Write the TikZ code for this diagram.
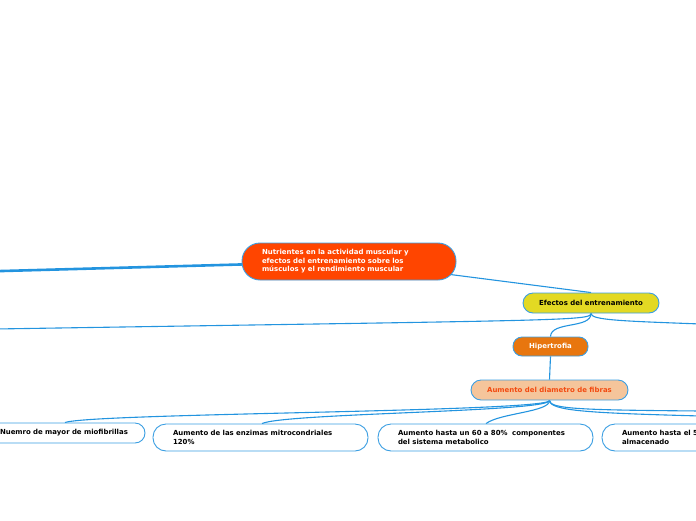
\documentclass[tikz,border=0pt]{standalone}
\usepackage{fontspec}
\setmainfont{DejaVu Sans}
\usetikzlibrary{backgrounds}
\definecolor{lineblue}{HTML}{2394DF}
\definecolor{bordblue}{HTML}{3A9EE2}
\definecolor{mainred}{HTML}{FF4500}
\definecolor{efyellow}{HTML}{E3D923}
\definecolor{hiporange}{HTML}{E8760E}
\definecolor{peach}{HTML}{F5C59B}
\definecolor{peachtext}{HTML}{F24A10}
\begin{document}
\begin{tikzpicture}[x=1pt,y=-1pt,
  every node/.style={font=\fontsize{6.95}{8.6}\selectfont\bfseries},
  topicbox/.style={draw=bordblue,line width=0.9pt,rounded corners=#1,inner sep=0pt},
  topicbox/.default=9pt,
  conn/.style={draw=lineblue,line width=1.1pt},
  thickconn/.style={draw=lineblue,line width=2.6pt}]
\useasboundingbox (0,0) rectangle (696,520);
\clip (0,0) rectangle (696,520);
% nodes
\node[topicbox=18pt,fill=mainred,text=white,minimum width=214pt,minimum height=37pt,
      text width=174pt,align=left] (main) at (349,261.5)
  {Nutrientes en la actividad muscular y\\efectos del entrenamiento sobre los\\músculos y el rendimiento muscular};
\node[topicbox=10pt,fill=efyellow,text=black,minimum width=136pt,minimum height=20pt] (efectos) at (591,303)
  {Efectos del entrenamiento};
\node[topicbox=9pt,fill=hiporange,text=white,minimum width=75pt,minimum height=19pt] (hiper) at (550.5,346.5)
  {Hipertrofia};
\node[topicbox=10pt,fill=peach,text=peachtext,minimum width=157pt,minimum height=20pt] (diam) at (549.5,390)
  {Aumento del diametro de fibras};
\node[topicbox=10pt,fill=white,text=black,minimum width=165pt,minimum height=20pt,
      text width=145pt,align=left] (miof) at (62.5,433)
  {\hspace*{10pt}Nuemro de mayor de miofibrillas};
\node[topicbox=13pt,fill=white,text=black,minimum width=215pt,minimum height=27pt,
      text width=175pt,align=left] (enz) at (260.5,437.5)
  {Aumento de las enzimas mitrocondriales\\120\%};
\node[topicbox=13pt,fill=white,text=black,minimum width=215pt,minimum height=27pt,
      text width=175pt,align=left] (meta) at (485.5,437.5)
  {Aumento hasta un 60 a 80\%~ componentes\\del sistema metabolico};
\node[topicbox=13pt,fill=white,text=black,minimum width=215pt,minimum height=27pt,
      text width=175pt,align=left] (gluc) at (709.5,437.5)
  {Aumento hasta el 50\% de glucógeno\\almacenado};
% free ends
\coordinate (leftA) at (-5,271.2);
\coordinate (leftB) at (-5,329);
\coordinate (rightB) at (701,324);
\coordinate (rightC1) at (701,411);
\coordinate (rightC2) at (701,416);
\begin{scope}[on background layer]
  \draw[thickconn] (main.center) -- (leftA);
  \draw[conn] (main.center) -- (efectos.north);
  \draw[conn] (efectos.south) .. controls (591,321) and (560,320) .. (leftB);
  \draw[conn] (efectos.south) .. controls (591,320) and (620,321) .. (rightB);
  \draw[conn] (efectos.south) .. controls (591,329) and (551,321) .. (hiper.north);
  \draw[conn] (hiper.south) -- (diam.north);
  \draw[conn] (diam.south) .. controls (550,412) and (90,413) .. ([xshift=2.5pt]miof.north);
  \draw[conn] (diam.south) .. controls (550,412) and (285,413) .. ([xshift=1.5pt]enz.north);
  \draw[conn] (diam.south) .. controls (550,412) and (500,413) .. ([xshift=0.5pt]meta.north);
  \draw[conn] (diam.south) .. controls (550,409) and (580,410) .. (rightC1);
  \draw[conn] (diam.south) .. controls (550,411) and (590,413) .. (rightC2);
\end{scope}
\end{tikzpicture}
\end{document}
